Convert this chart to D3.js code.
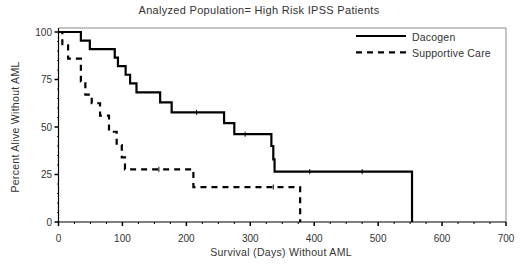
<!DOCTYPE html>
<html>
<head>
<meta charset="utf-8">
<script src="https://cdn.jsdelivr.net/npm/d3@7"></script>
<style>
  html, body { margin: 0; padding: 0; background: #fff; }
  svg { display: block; }
  text { font-family: "Liberation Sans", Arial, sans-serif; fill: #333; }
</style>
</head>
<body>
<svg id="chart" width="520" height="272"></svg>
<script>
// ---- data ----
const dacogenDays = [0, 35, 49, 88, 93, 105, 112, 122, 159, 177, 259, 275, 333, 336, 338, 553];
const dacogenPct  = [100, 95.5, 91, 86.5, 82, 77.5, 73, 68.2, 63, 57.7, 52, 46.2, 40, 33, 26.5, 0];
const dacogenCensorDays = [216, 292, 393, 475];

const supportiveDays = [0, 6, 15, 35, 42, 52, 65, 79, 91, 99, 104, 211, 378];
const supportivePct  = [100, 93, 86, 74, 67, 62.5, 56, 47.5, 40.5, 34, 27.7, 18.4, 0];
const supportiveCensorDays = [157, 336];

const xTicks = [0, 100, 200, 300, 400, 500, 600, 700];
const yTicks = [0, 25, 50, 75, 100];
const seriesNames = ["Dacogen", "Supportive Care"];
const titleText = "Analyzed Population= High Risk IPSS Patients";
const xLabel = "Survival (Days) Without AML";
const yLabel = "Percent Alive Without AML";

// ---- drawing ----
const svg = d3.select("#chart");
const x = d3.scaleLinear().domain([0, 700]).range([58.5, 506]);
const y = d3.scaleLinear().domain([0, 100]).range([222, 32]);

// frame (top / right)
svg.append("path")
  .attr("d", `M${x(0)},28H${x(700)}V${y(0)}`)
  .attr("fill", "none").attr("stroke", "#8a8a8a").attr("stroke-width", 1);

// x axis
const xMinor = d3.range(0, 701, 25);
const gx = svg.append("g");
gx.append("line").attr("x1", x(0)).attr("x2", x(700)).attr("y1", y(0)).attr("y2", y(0))
  .attr("stroke", "#000").attr("stroke-width", 1.2);
gx.selectAll(".mn").data(xMinor).join("line")
  .attr("x1", d => x(d)).attr("x2", d => x(d))
  .attr("y1", y(0)).attr("y2", d => y(0) + (d % 100 === 0 ? 4 : 2))
  .attr("stroke", "#000").attr("stroke-width", d => d % 100 === 0 ? 1.5 : 1);
gx.selectAll("text").data(xTicks).join("text")
  .attr("x", d => x(d)).attr("y", 242)
  .attr("text-anchor", "middle").attr("font-size", 10).text(d => d);

// y axis
const yMinor = d3.range(0, 101, 5);
const gy = svg.append("g");
gy.append("line").attr("x1", x(0)).attr("x2", x(0)).attr("y1", 28).attr("y2", y(0))
  .attr("stroke", "#000").attr("stroke-width", 1.2);
gy.selectAll(".mn").data(yMinor).join("line")
  .attr("y1", d => y(d)).attr("y2", d => y(d))
  .attr("x1", x(0)).attr("x2", d => x(0) - (d % 25 === 0 ? 4 : 1.5))
  .attr("stroke", "#000").attr("stroke-width", d => d % 25 === 0 ? 1.5 : 0.8);
gy.selectAll("text").data(yTicks).join("text")
  .attr("x", 52).attr("y", d => y(d) + 3.5)
  .attr("text-anchor", "end").attr("font-size", 10).text(d => d);

// titles
svg.append("text").attr("x", 259).attr("y", 14).attr("text-anchor", "middle")
  .attr("font-size", 11).attr("letter-spacing", 0.3).text(titleText);
svg.append("text").attr("x", 281).attr("y", 256).attr("text-anchor", "middle")
  .attr("font-size", 10.5).attr("letter-spacing", 0.3).text(xLabel);
svg.append("text").attr("transform", "translate(19,127) rotate(-90)").attr("text-anchor", "middle")
  .attr("font-size", 10.5).attr("letter-spacing", 0.3).text(yLabel);

// step curves
const line = d3.line().x(d => x(d[0])).y(d => y(d[1])).curve(d3.curveStepAfter);
const dacogen = dacogenDays.map((d, i) => [d, dacogenPct[i]]);
const supportive = supportiveDays.map((d, i) => [d, supportivePct[i]]);

svg.append("path").attr("d", line(supportive))
  .attr("fill", "none").attr("stroke", "#000").attr("stroke-width", 2.2)
  .attr("stroke-dasharray", "6,5");
svg.append("path").attr("d", line(dacogen))
  .attr("fill", "none").attr("stroke", "#000").attr("stroke-width", 2.2);

function stepValue(days, pct, t) {
  let v = pct[0];
  for (let i = 0; i < days.length; i++) if (days[i] <= t) v = pct[i];
  return v;
}
function censor(daysList, days, pct) {
  svg.append("g").selectAll("line").data(daysList).join("line")
    .attr("x1", d => x(d)).attr("x2", d => x(d))
    .attr("y1", d => y(stepValue(days, pct, d)) - 2.5)
    .attr("y2", d => y(stepValue(days, pct, d)) + 2.5)
    .attr("stroke", "#000").attr("stroke-width", 1);
}
censor(dacogenCensorDays, dacogenDays, dacogenPct);
censor(supportiveCensorDays, supportiveDays, supportivePct);

// legend
const lg = svg.append("g");
seriesNames.forEach((name, i) => {
  const ly = 36 + i * 16.3;
  lg.append("line").attr("x1", 356).attr("x2", 406).attr("y1", ly).attr("y2", ly)
    .attr("stroke", "#000").attr("stroke-width", 2.2)
    .attr("stroke-dasharray", i === 1 ? "6,5" : null);
  lg.append("text").attr("x", 412).attr("y", ly + 5).attr("font-size", 10.5)
    .attr("letter-spacing", 0.2).text(name);
});
</script>
</body>
</html>
